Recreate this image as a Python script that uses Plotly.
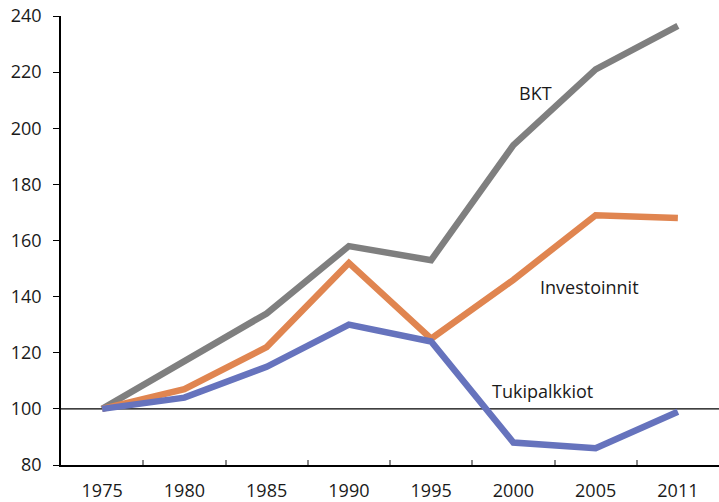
import plotly.graph_objects as go

years = ["1975", "1980", "1985", "1990", "1995", "2000", "2005", "2011"]
bkt = [100, 117, 134, 158, 153, 194, 221, 236.5]
investoinnit = [100, 107, 122, 152, 125, 146, 169, 168]
tukipalkkiot = [100, 104, 115, 130, 124, 88, 86, 99]
yticks = [80, 100, 120, 140, 160, 180, 200, 220, 240]

FONT = "Open Sans, Lato, sans-serif"

fig = go.Figure()
series = [
    ("BKT", bkt, "#7f7f7f"),
    ("Investoinnit", investoinnit, "#e08550"),
    ("Tukipalkkiot", tukipalkkiot, "#6673bd"),
]
for name, vals, col in series:
    fig.add_trace(go.Scatter(x=years, y=vals, mode="lines", name=name,
                             line=dict(color=col, width=6.5), showlegend=False))

fig.add_shape(type="line", xref="paper", yref="y", x0=0, x1=1, y0=100, y1=100,
              line=dict(color="black", width=1.2), layer="below")

ann = [("BKT", 5.27, 212.6), ("Investoinnit", 5.92, 143.4), ("Tukipalkkiot", 5.36, 106.4)]
for t, x, y in ann:
    fig.add_annotation(x=x, y=y, xref="x", yref="y", text=t, showarrow=False,
                       xanchor="center", yanchor="middle",
                       font=dict(family=FONT, size=18, color="#1a1a1a"))

fig.update_layout(
    width=719, height=502,
    margin=dict(l=61, r=0, t=16, b=37, autoexpand=False),
    paper_bgcolor="white", plot_bgcolor="white",
    font=dict(family=FONT, size=18, color="#1a1a1a"),
)
fig.update_xaxes(type="category", range=[-0.5, 7.5], showgrid=False,
                 showline=True, linecolor="black", linewidth=1.5,
                 ticks="inside", tickson="boundaries", ticklen=5,
                 tickcolor="#888888", tickwidth=1.5, ticklabelstandoff=9)
fig.update_yaxes(range=[80, 240], tickvals=yticks, showgrid=False, zeroline=False,
                 showline=True, linecolor="black", linewidth=1.5,
                 ticks="outside", ticklen=6, tickcolor="black", tickwidth=1,
                 ticklabelstandoff=8)

fig.write_html("out.html", config={"displayModeBar": False},
               post_script="document.body.style.margin='0';document.body.style.overflow='hidden';")
